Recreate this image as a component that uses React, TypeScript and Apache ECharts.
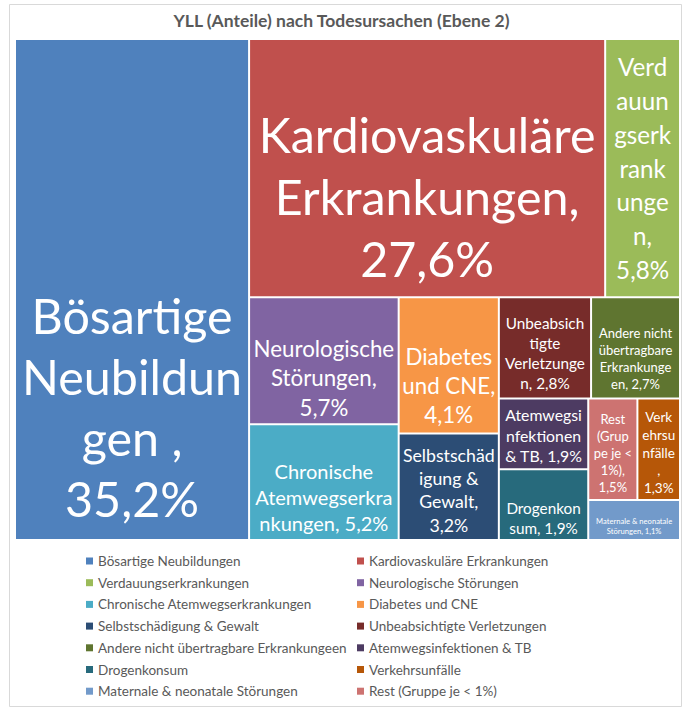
import React, { useEffect, useRef } from "react";
import * as echarts from "echarts";

const chartTitle = "YLL (Anteile) nach Todesursachen (Ebene 2)";

// legend order (row by row, two columns)
const categories = [
  "Bösartige Neubildungen",
  "Kardiovaskuläre Erkrankungen",
  "Verdauungserkrankungen",
  "Neurologische Störungen",
  "Chronische Atemwegserkrankungen",
  "Diabetes und CNE",
  "Selbstschädigung & Gewalt",
  "Unbeabsichtigte Verletzungen",
  "Andere nicht übertragbare Erkrankungeen",
  "Atemwegsinfektionen & TB",
  "Drogenkonsum",
  "Verkehrsunfälle",
  "Maternale & neonatale Störungen",
  "Rest (Gruppe je < 1%)",
];

const shares = [35.2, 27.6, 5.8, 5.7, 5.2, 4.1, 3.2, 2.8, 2.7, 1.9, 1.9, 1.3, 1.1, 1.5];

const labelTexts = [
  "Bösartige\nNeubildun\ngen ,\n35,2%",
  "Kardiovaskuläre\nErkrankungen,\n27,6%",
  "Verd\nauun\ngserk\nrank\nunge\nn,\n5,8%",
  "Neurologische\nStörungen,\n5,7%",
  "Chronische\nAtemwegserkra\nnkungen, 5,2%",
  "Diabetes\nund CNE,\n4,1%",
  "Selbstschäd\nigung &\nGewalt,\n3,2%",
  "Unbeabsich\ntigte\nVerletzunge\nn, 2,8%",
  "Andere nicht\nübertragbare\nErkrankunge\nen, 2,7%",
  "Atemwegsi\nnfektionen\n& TB, 1,9%",
  "Drogenkon\nsum, 1,9%",
  "Verk\nehrsu\nnfälle\n,\n1,3%",
  "Maternale & neonatale\nStörungen, 1,1%",
  "Rest\n(Grup\npe je <\n1%),\n1,5%",
];

// styles (kept apart from the values)
const colors = [
  "#4F81BD", "#C0504D", "#9BBB59", "#8064A2", "#4BACC6", "#F79646", "#2C4D75",
  "#772C2A", "#5F7530", "#4D3B62", "#276A7C", "#B65708", "#729ACA", "#CD7371",
];
const labelFontSizes = [48.4, 48.4, 24.2, 22.3, 20, 22.3, 17.7, 15.3, 13, 15.8, 15.3, 13.5, 7.6, 13];
const labelLineHeights = [61, 62, 33.8, 29.3, 26.2, 29.3, 23.2, 20.1, 17.1, 20.7, 20.1, 17.7, 10, 17.1];
const labelShiftY = [117, 28, 0, 17, 15, 20, 3.5, 5.5, 11, 1.5, 13, 3.5, 6, 3.5];

// nesting that reproduces the squarified arrangement of the original
type Group = number | Group[];
const layoutTree: Group[] = [0, [[1, 2], [[3, 4], [5, 6]], [[7, 8], [[9, 10], [[13, 11], 12]]]]];

function buildNode(g: Group): any {
  if (typeof g === "number") {
    return {
      name: categories[g],
      value: shares[g],
      itemStyle: { color: colors[g], borderColor: "#ffffff", borderWidth: 1 },
      label: {
        formatter: labelTexts[g],
        fontSize: labelFontSizes[g],
        lineHeight: labelLineHeights[g],
        offset: [0, labelShiftY[g]],
      },
    };
  }
  return { name: "", children: g.map(buildNode) };
}

export default function App() {
  const ref = useRef<HTMLDivElement>(null);
  useEffect(() => {
    if (!ref.current) return;
    const chart = echarts.init(ref.current, null, { renderer: "svg" });
    const leftItems = categories.filter((_, i) => i % 2 === 0);
    const rightItems = categories.filter((_, i) => i % 2 === 1);
    const legendCommon = {
      orient: "vertical",
      top: 554,
      padding: 0,
      itemWidth: 7,
      itemHeight: 7,
      itemGap: 7.7,
      icon: "rect",
      selectedMode: false,
      textStyle: { fontFamily: "Lato", fontSize: 13.5, lineHeight: 14, color: "#595959" },
    };
    chart.setOption({
      animation: false,
      backgroundColor: "#ffffff",
      title: {
        text: chartTitle,
        left: "center",
        top: 10,
        padding: 0,
        textStyle: { fontFamily: "Lato", fontSize: 17.5, fontWeight: "bold", color: "#595959", lineHeight: 20 },
      },
      graphic: [
        {
          type: "rect",
          shape: { x: 9.5, y: 4.5, width: 672, height: 702 },
          style: { fill: "none", stroke: "#d9d9d9", lineWidth: 1 },
          silent: true,
        },
      ],
      legend: [
        { ...legendCommon, left: 86, data: leftItems },
        { ...legendCommon, left: 357, data: rightItems },
      ],
      series: [
        {
          type: "treemap",
          left: 15,
          top: 39,
          width: 665,
          height: 501,
          squareRatio: 1.22,
          sort: false,
          roam: false,
          nodeClick: false,
          silent: true,
          breadcrumb: { show: false },
          itemStyle: { borderWidth: 0, gapWidth: 0 },
          upperLabel: { show: false },
          label: {
            show: true,
            position: "inside",
            color: "#ffffff",
            fontFamily: "Lato",
            overflow: "none",
            lineOverflow: "none",
            padding: 0,
            align: "center",
            verticalAlign: "middle",
          },
          emphasis: { disabled: true },
          data: layoutTree.map(buildNode),
        },
        {
          type: "pie",
          radius: 0,
          center: [-100, -100],
          silent: true,
          label: { show: false },
          labelLine: { show: false },
          data: categories.map((n, i) => ({ name: n, value: shares[i], itemStyle: { color: colors[i] } })),
        },
      ],
    });
    return () => chart.dispose();
  }, []);
  return (
    <div
      ref={ref}
      style={{ position: "fixed", left: 0, top: 0, width: 683, height: 709, background: "#fff" }}
    />
  );
}
